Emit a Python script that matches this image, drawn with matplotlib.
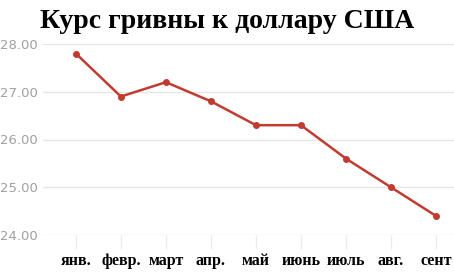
import matplotlib
matplotlib.use("Agg")
import matplotlib.pyplot as plt

months = ["янв.", "февр.", "март", "апр.", "май", "июнь", "июль", "авг.", "сент"]
rates = [27.8, 26.9, 27.2, 26.8, 26.3, 26.3, 25.6, 25.0, 24.4]
yticks = [24.0, 25.0, 26.0, 27.0, 28.0]
title = "Курс гривны к доллару США"

fig = plt.figure(figsize=(4.54, 2.72), dpi=100)
ax = fig.add_axes([43/454, 1-235/272, 1-43/454, (235-44)/272])
x = list(range(len(months)))
ax.plot(x, rates, color="#c23b30", lw=1.8, marker="o", ms=4, zorder=3)
ax.set_xlim(-0.73, 8.4)
ax.set_ylim(24, 28)
ax.set_yticks(yticks)
ax.set_yticklabels([f"{v:.2f}" for v in yticks], color="#a0a0a0", fontsize=9.5)
ax.set_xticks(x)
ax.set_xticklabels(months, fontfamily="Liberation Serif", fontweight="bold", fontsize=11.5)
ax.grid(axis="y", color="#e6e6e6", lw=1)
for s in ax.spines.values():
    s.set_visible(False)
ax.tick_params(axis="y", length=0, pad=4)
ax.tick_params(axis="x", length=10, color="#ebebeb", width=1, pad=3)
fig.text(0.5, 1-21/272, title, ha="center", va="center", fontfamily="Liberation Serif",
         fontweight="bold", fontsize=20)
fig.savefig("out.png", dpi=100)
